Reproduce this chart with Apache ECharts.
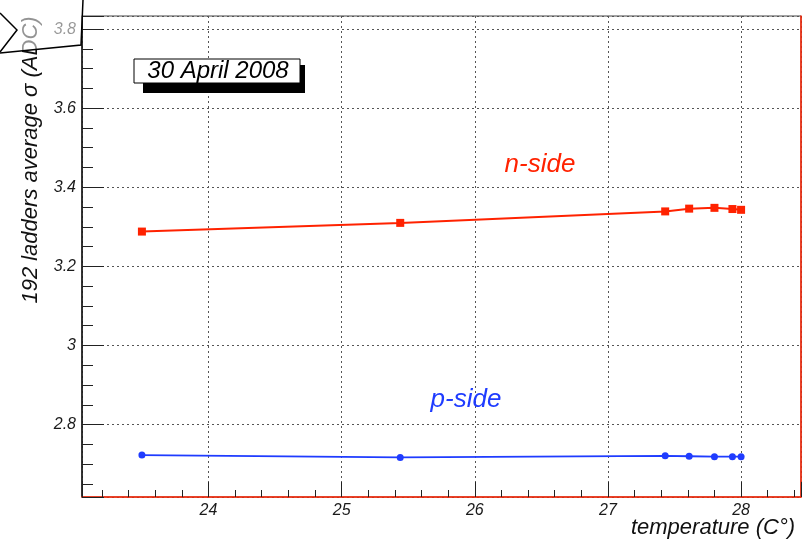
<!DOCTYPE html>
<html>
<head>
<meta charset="utf-8">
<script src="https://cdn.jsdelivr.net/npm/echarts@6/dist/echarts.min.js"></script>
<style>
  html, body { margin: 0; padding: 0; background: #fff; }
  #chart { width: 805px; height: 541px; }
</style>
</head>
<body>
<div id="chart"></div>
<script>
// temperature (C) of each run and the average noise of the 192 ladders
var temperature = [23.5, 25.44, 27.43, 27.61, 27.8, 27.935, 28.0];
var nSide = [3.288, 3.310, 3.339, 3.346, 3.348, 3.345, 3.343];
var pSide = [2.723, 2.717, 2.721, 2.720, 2.719, 2.719, 2.719];
var xRange = [23.05, 28.45];
var yRange = [2.617, 3.833];

var FONT = "Liberation Sans, Helvetica, Arial, sans-serif";

function pairs(xs, ys) {
  var out = [];
  for (var i = 0; i < xs.length; i++) out.push([xs[i], ys[i]]);
  return out;
}

var chart = echarts.init(document.getElementById("chart"));

var labelStyle = {
  fontFamily: FONT,
  fontStyle: "italic",
  fontSize: 16,
  color: "#1a1a1a"
};

var option = {
  animation: false,
  backgroundColor: "#fff",
  grid: {
    left: 82, right: 4, top: 16, bottom: 44,
    show: true, borderColor: "#444", borderWidth: 1,
    outerBoundsMode: "none"
  },
  xAxis: {
    type: "value",
    min: xRange[0], max: xRange[1],
    minInterval: 1, maxInterval: 1,
    axisLine: { show: true, onZero: false, lineStyle: { color: "#ff2200", width: 1.5 } },
    axisTick: { show: true, inside: true, length: 15, lineStyle: { color: "#222" } },
    minorTick: { show: true, splitNumber: 5, length: 7, lineStyle: { color: "#222" } },
    splitLine: { show: true, lineStyle: { color: "#555", type: [2, 3], width: 1 } },
    axisLabel: Object.assign({ margin: 6, showMinLabel: false, showMaxLabel: false,
      formatter: function (v) { return Math.abs(v - Math.round(v)) < 1e-6 ? String(Math.round(v)) : ""; }
    }, labelStyle)
  },
  yAxis: [{
    type: "value",
    min: yRange[0], max: yRange[1],
    minInterval: 0.2, maxInterval: 0.2,
    axisLine: { show: true, onZero: false, lineStyle: { color: "#111", width: 1.5 } },
    axisTick: { show: true, inside: true, length: 22, lineStyle: { color: "#222" } },
    minorTick: { show: true, splitNumber: 4, length: 11, lineStyle: { color: "#222" } },
    splitLine: { show: true, lineStyle: { color: "#555", type: [2, 3], width: 1 } },
    axisLabel: Object.assign({ margin: 6, showMinLabel: false, showMaxLabel: false,
      formatter: function (v) { return Math.abs(v - 3) < 1e-6 ? "3" : v.toFixed(1); }
    }, labelStyle)
  }, {
    type: "value",
    position: "right",
    min: yRange[0], max: yRange[1],
    axisLine: { show: true, lineStyle: { color: "#ff2200", width: 1.5 } },
    axisTick: { show: false },
    axisLabel: { show: false },
    splitLine: { show: false }
  }],
  series: [{
    name: "n-side",
    type: "line",
    data: pairs(temperature, nSide),
    symbol: "rect",
    symbolSize: 8,
    itemStyle: { color: "#ff2200" },
    lineStyle: { color: "#ff2200", width: 2 }
  }, {
    name: "p-side",
    type: "line",
    data: pairs(temperature, pSide),
    symbol: "circle",
    symbolSize: 7,
    itemStyle: { color: "#1f3cff" },
    lineStyle: { color: "#1f3cff", width: 1.8 }
  }],
  graphic: [
    // date box with shadow
    { type: "rect", shape: { x: 143, y: 65, width: 162, height: 28 }, style: { fill: "#000" }, z: 10 },
    { type: "rect", shape: { x: 134, y: 59, width: 166, height: 24 }, style: { fill: "#fff", stroke: "#000", lineWidth: 1 }, z: 11 },
    { type: "text", x: 218, y: 71, z: 12,
      style: { text: "30 April 2008", fontFamily: FONT, fontStyle: "italic", fontSize: 24,
               fill: "#000", align: "center", verticalAlign: "middle" } },
    { type: "text", x: 540, y: 165, z: 12,
      style: { text: "n-side", fontFamily: FONT, fontStyle: "italic", fontSize: 26,
               fill: "#ff2200", align: "center", verticalAlign: "middle" } },
    { type: "text", x: 466, y: 400, z: 12,
      style: { text: "p-side", fontFamily: FONT, fontStyle: "italic", fontSize: 26,
               fill: "#1f3cff", align: "center", verticalAlign: "middle" } },
    { type: "text", x: 31, y: 160, rotation: Math.PI / 2, z: 12,
      style: { text: "192 ladders average \u03c3 (ADC)", fontFamily: FONT, fontStyle: "italic", fontSize: 22,
               fill: "#111", align: "center", verticalAlign: "middle" } },
    { type: "text", x: 795, y: 528, z: 12,
      style: { text: "temperature (C\u00b0)", fontFamily: FONT, fontStyle: "italic", fontSize: 22,
               fill: "#111", align: "right", verticalAlign: "middle" } },
    // stray translucent pane in the top-left corner
    { type: "polygon", z: 20, shape: { points: [[0, 0], [83, 0], [81, 45], [0, 53]] },
      style: { fill: "rgba(255,255,255,0.55)" } },
    { type: "polyline", z: 21, shape: { points: [[83, 0], [81, 45], [0, 53]] },
      style: { stroke: "#000", lineWidth: 1.5, fill: null } },
    { type: "polyline", z: 21, shape: { points: [[0, 13], [17, 30], [0, 52]] },
      style: { stroke: "#000", lineWidth: 1.5, fill: null } }
  ]
};

chart.setOption(option);
</script>
</body>
</html>
